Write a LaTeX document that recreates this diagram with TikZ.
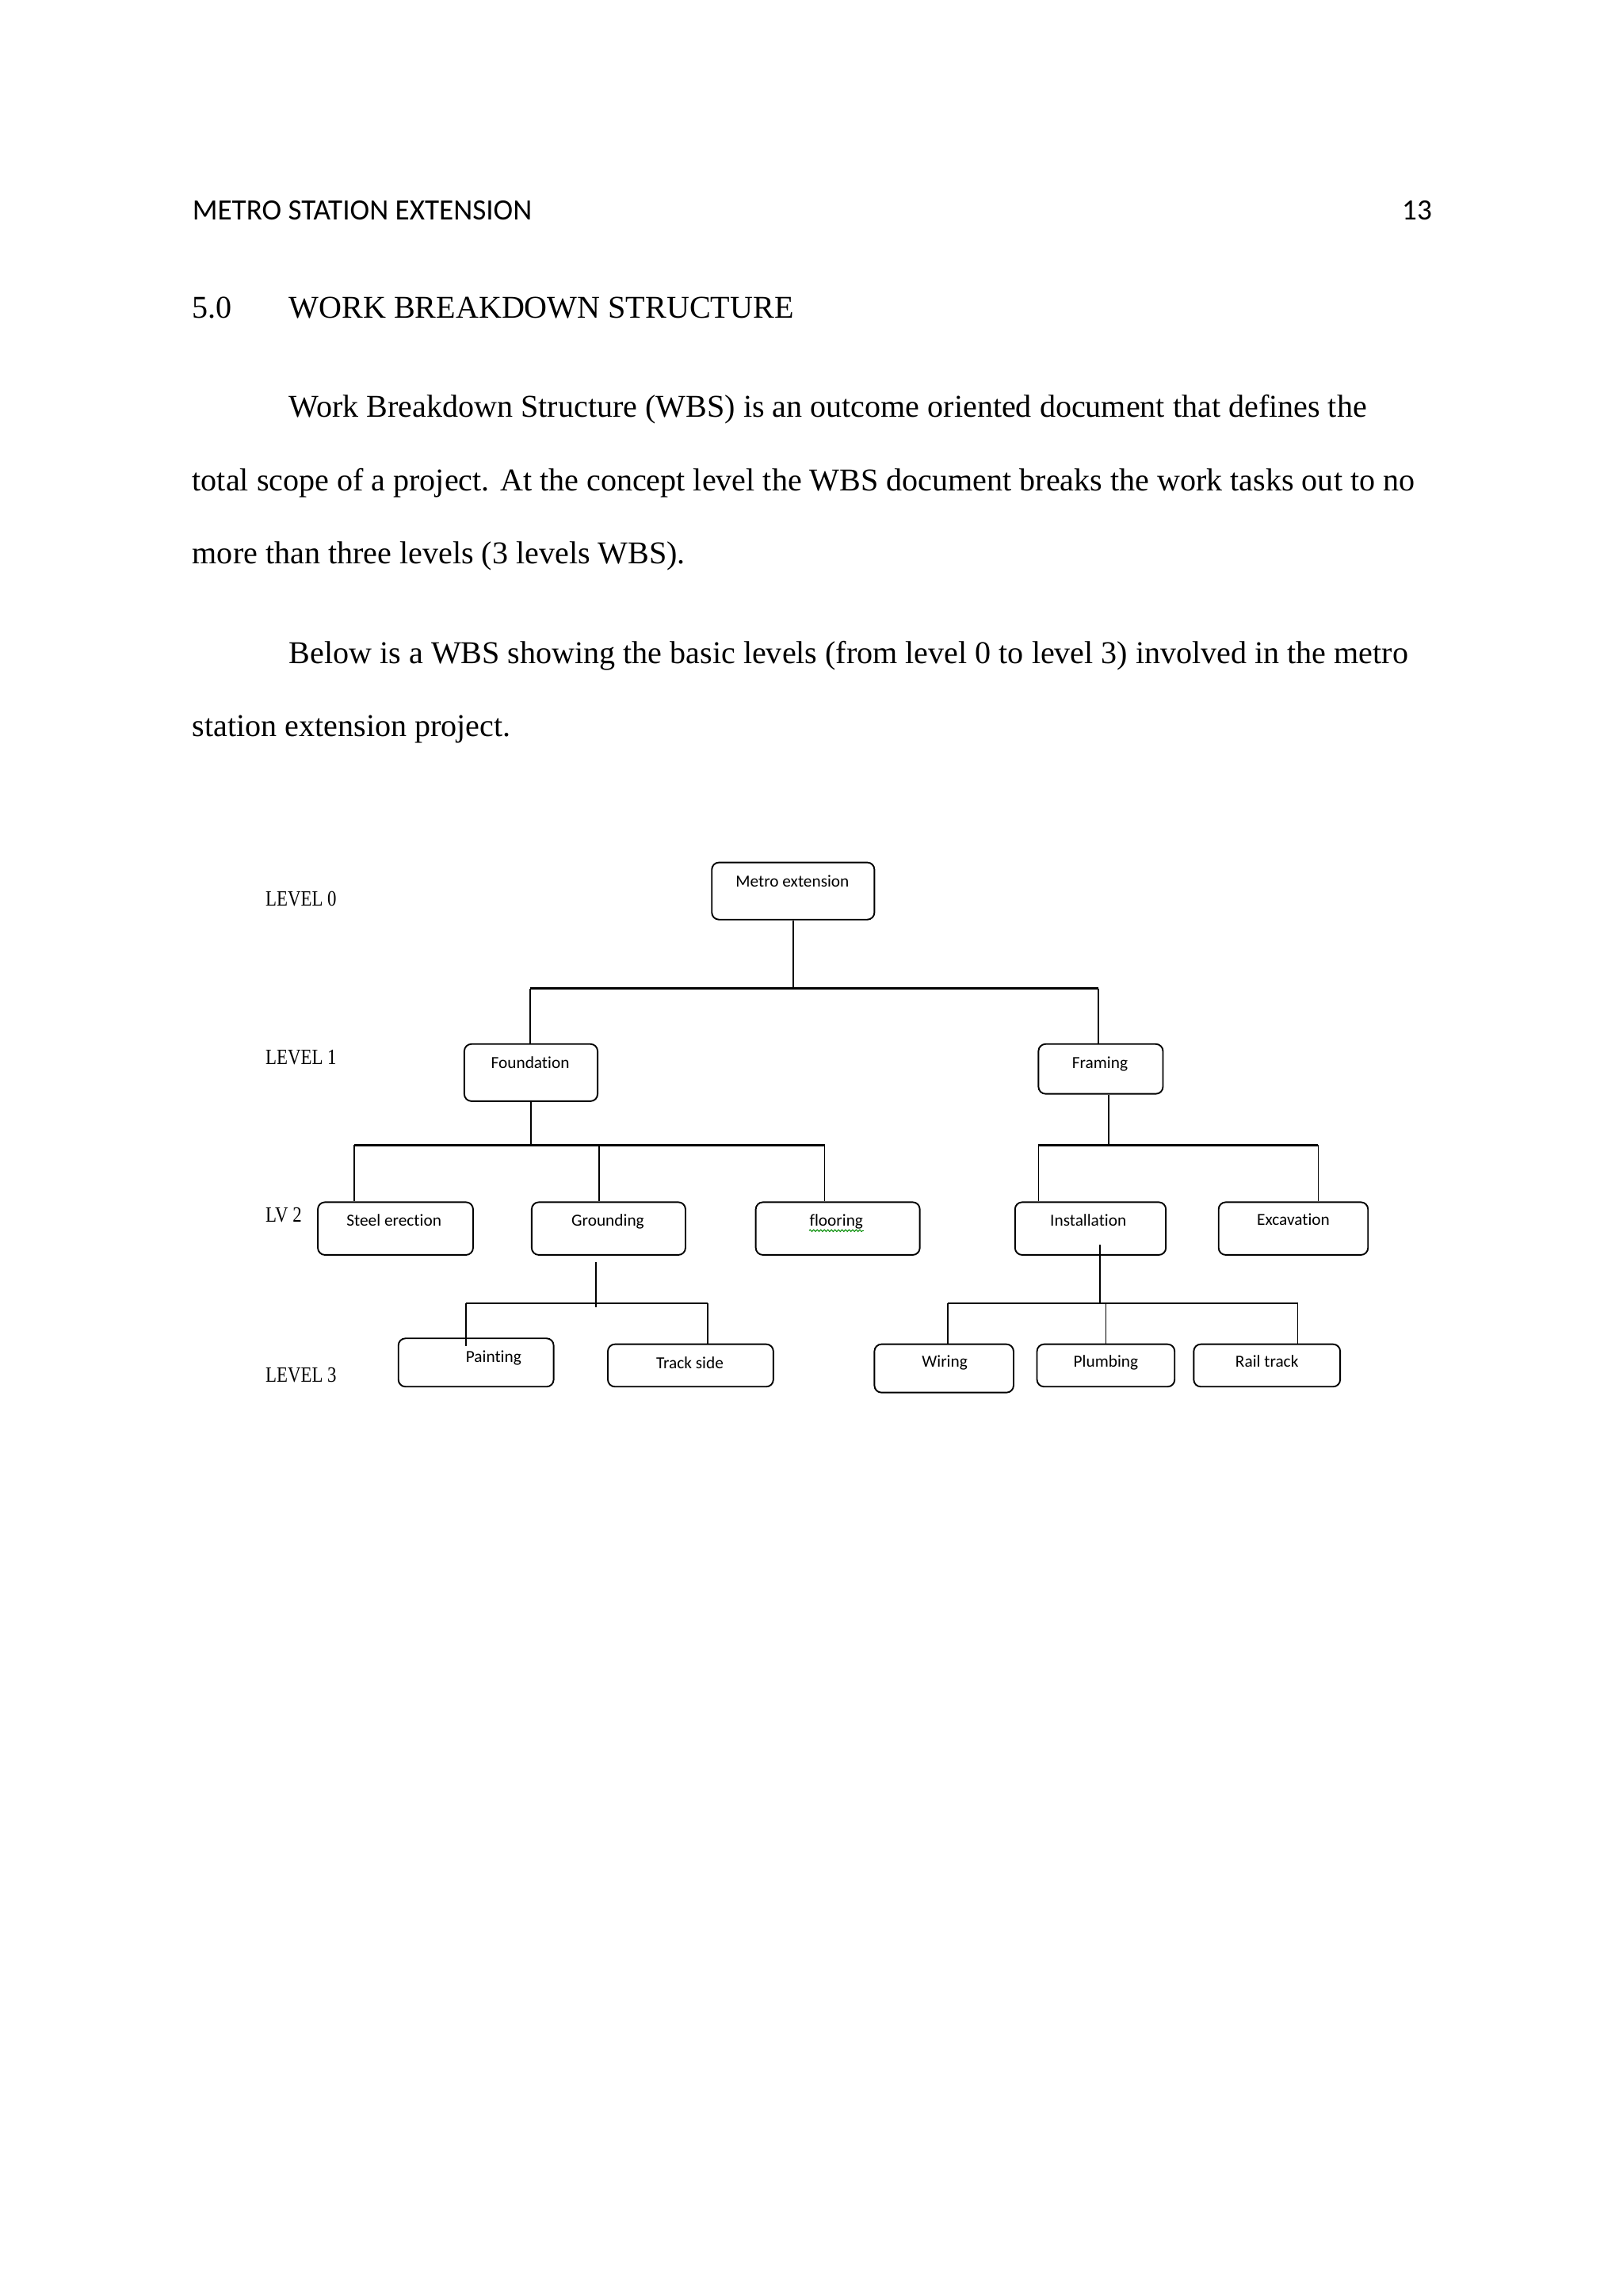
\documentclass[tikz,border=0pt]{standalone}
\usepackage{fontspec}
\setmainfont{Liberation Serif}
\newfontfamily\carlito[Ligatures=NoCommon]{Carlito}
\usetikzlibrary{fit,decorations.pathmorphing}
\tikzset{
  wbsbox/.style={draw, rounded corners=2.6pt, line width=0.55pt, inner sep=0pt},
  lbl/.style={font=\fontsize{6.2}{7}\selectfont\carlito, inner sep=0pt, anchor=base},
  lvl/.style={font=\fontsize{8}{9}\selectfont, inner sep=0pt, anchor=west},
  body/.style={font=\fontsize{11.65}{14}\selectfont, inner sep=0pt, anchor=base west},
  conn/.style={line width=0.5pt},
  barline/.style={line width=0.75pt}
}
\begin{document}
\begin{tikzpicture}[x=0.5373pt, y=-0.5373pt]
\useasboundingbox (0,0) rectangle (1108,1568);
\fill[white] (0,0) rectangle (1108,1568);

% header
\node[font=\fontsize{10.8}{12}\selectfont\carlito, inner sep=0pt, anchor=base west] (hdr) at (131,150) {METRO STATION EXTENSION};
\node[font=\fontsize{10.8}{12}\selectfont\carlito, inner sep=0pt, anchor=base east] (pg) at (978,150) {13};

% heading
\node[body] (secnum) at (131,217) {5.0};
\node[body] (sectitle) at (197,217) {WORK BREAKDOWN STRUCTURE};

% paragraphs
\node[body] (p1) at (197,285) {Work Breakdown Structure (WBS) is an outcome oriented document that defines the};
\node[body] (p2) at (131,335) {total scope of a project. At the concept level the WBS document breaks the work tasks out to no};
\node[body] (p3) at (131,385) {more than three levels (3 levels WBS).};
\node[body] (p4) at (197,453) {Below is a WBS showing the basic levels (from level 0 to level 3) involved in the metro};
\node[body] (p5) at (131,503) {station extension project.};

% level labels
\node[lvl] (lv0) at (181,614) {\scalebox{0.83}[1]{LEVEL 0}};
\node[lvl] (lv1) at (181,722) {\scalebox{0.83}[1]{LEVEL 1}};
\node[lvl] (lv2) at (181,830) {\scalebox{0.83}[1]{LV 2}};
\node[lvl] (lv3) at (181,939) {\scalebox{0.83}[1]{LEVEL 3}};

% boxes
\node[wbsbox, fit={(486,589) (597,628)}] (metro) {};
\node[wbsbox, fit={(317,713) (408,752)}] (found) {};
\node[wbsbox, fit={(709,713) (794,747)}] (fram) {};
\node[wbsbox, fit={(217,821) (323,857)}] (steel) {};
\node[wbsbox, fit={(363,821) (468,857)}] (grd) {};
\node[wbsbox, fit={(516,821) (628,857)}] (floor) {};
\node[wbsbox, fit={(693,821) (796,857)}] (inst) {};
\node[wbsbox, fit={(832,821) (934,857)}] (excav) {};
\node[wbsbox, fit={(272,914) (378,947)}] (paint) {};
\node[wbsbox, fit={(415,918) (528,947)}] (track) {};
\node[wbsbox, fit={(597,918) (692,951)}] (wire) {};
\node[wbsbox, fit={(708,918) (802,947)}] (plumb) {};
\node[wbsbox, fit={(815,918) (915,947)}] (rail) {};

% box labels
\node[lbl] (metrot) at (541,605.5) {Metro extension};
\node[lbl] (foundt) at (362,729.5) {Foundation};
\node[lbl] (framt) at (751,729.5) {Framing};
\node[lbl] (steelt) at (269,837.5) {Steel erection};
\node[lbl] (grdt) at (415,837.5) {Grounding};
\node[lbl] (floort) at (571,837.5) {flooring};
\node[lbl] (instt) at (743,837.5) {Installation};
\node[lbl] (excavt) at (883,836.5) {Excavation};
\node[lbl] (paintt) at (337,930.5) {Painting};
\node[lbl] (trackt) at (471,934.5) {Track side};
\node[lbl] (wiret) at (645,933.5) {Wiring};
\node[lbl] (plumbt) at (755,933.5) {Plumbing};
\node[lbl] (railt) at (865,933.5) {Rail track};

% spell-check underline
\draw[green!55!black, line width=0.3pt, decorate, decoration={snake, amplitude=0.35pt, segment length=1.3pt}]
  ([yshift=-0.3pt]floort.south west) -- ([yshift=-0.3pt]floort.south east);

% level 0 -> 1
\coordinate (b1L) at (362,675);
\coordinate (b1R) at (750,675);
\draw[conn] (metro.south) -- (metro.south |- b1L);
\draw[barline] (b1L) -- (b1R);
\draw[conn] (b1L) -- (b1L |- found.north);
\draw[conn] (b1R) -- (b1R |- fram.north);

% level 1 -> 2 (left)
\coordinate (b2a) at (242,782);
\coordinate (b2b) at (409,782);
\coordinate (b2c) at (563,782);
\draw[conn] (found.south) -- (found.south |- b2a);
\draw[barline] (b2a) -- (b2c);
\draw[conn] (b2a) -- (b2a |- steel.north);
\draw[conn] (b2b) -- (b2b |- grd.north);
\draw[conn] (b2c) -- (b2c |- floor.north);

% level 1 -> 2 (right)
\coordinate (b2d) at (709,782);
\coordinate (b2e) at (900,782);
\coordinate (b2f) at (757,782);
\draw[conn] (b2f |- fram.south) -- (b2f);
\draw[barline] (b2d) -- (b2e);
\draw[conn] (b2d) -- (b2d |- inst.north);
\draw[conn] (b2e) -- (b2e |- excav.north);

% level 2 -> 3 (left)
\coordinate (g0) at (407,862);
\coordinate (b3a) at (318,890);
\coordinate (b3b) at (483,890);
\draw[conn] (g0) -- (407,893);
\draw[barline] (b3a) -- (b3b);
\draw[conn] (b3a) -- ([yshift=-3.2pt]b3a |- paint.north);
\draw[conn] (b3b) -- (b3b |- track.north);

% level 2 -> 3 (right)
\coordinate (i0) at (751,850);
\coordinate (b3c) at (647,890);
\coordinate (b3d) at (755,890);
\coordinate (b3e) at (886,890);
\draw[conn] (i0) -- (i0 |- b3c);
\draw[barline] (b3c) -- (b3e);
\draw[conn] (b3c) -- (b3c |- wire.north);
\draw[conn] (b3d) -- (b3d |- plumb.north);
\draw[conn] (b3e) -- (b3e |- rail.north);
\end{tikzpicture}
\end{document}
